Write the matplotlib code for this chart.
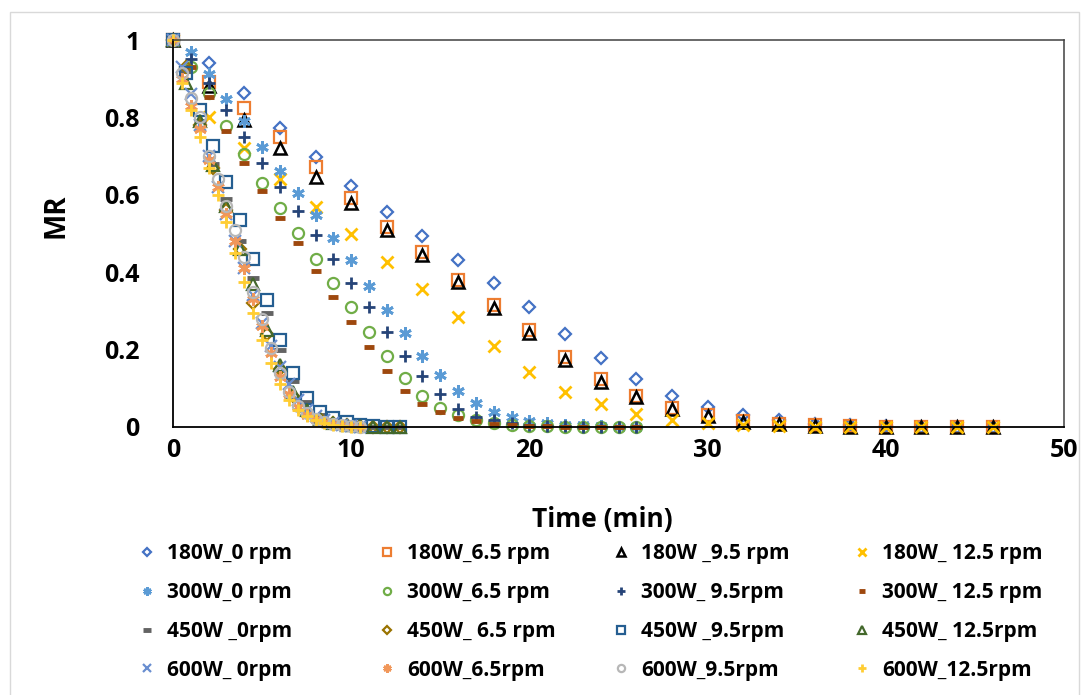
import numpy as np
import matplotlib
matplotlib.use("Agg")
import matplotlib.pyplot as plt
from matplotlib.patches import Rectangle

plt.rcParams['font.family'] = ['Open Sans', 'DejaVu Sans']
plt.rcParams['font.weight'] = 'bold'

# sampling times (min)
t_180 = np.arange(0, 47, 2)          # every 2 min
t_300 = np.arange(0, 27, 1)          # every 1 min
t_450 = np.arange(0, 13, 0.75)       # every 0.75 min
t_600 = np.arange(0, 10.6, 0.5)      # every 0.5 min

# moisture ratio
mr_180_0 = [1, 0.94, 0.863, 0.772, 0.697, 0.623, 0.556, 0.494, 0.432, 0.372, 0.31, 0.24,
            0.178, 0.124, 0.08, 0.052, 0.03, 0.017, 0.008, 0.004, 0.002, 0.001, 0, 0]
mr_180_65 = [1, 0.891, 0.824, 0.749, 0.672, 0.592, 0.518, 0.452, 0.38, 0.315, 0.25, 0.18,
             0.125, 0.08, 0.05, 0.03, 0.015, 0.008, 0.004, 0.002, 0.001, 0, 0, 0]
mr_180_95 = [1, 0.88, 0.793, 0.721, 0.646, 0.578, 0.51, 0.445, 0.375, 0.307, 0.243, 0.173,
             0.117, 0.078, 0.047, 0.028, 0.014, 0.007, 0.003, 0.001, 0, 0, 0, 0]
mr_180_125 = [1, 0.80, 0.72, 0.64, 0.568, 0.50, 0.426, 0.357, 0.284, 0.209, 0.142, 0.09,
              0.059, 0.034, 0.018, 0.01, 0.005, 0.002, 0.001, 0, 0, 0, 0, 0]

mr_300_0 = [1, 0.97, 0.912, 0.848, 0.79, 0.724, 0.662, 0.605, 0.548, 0.489, 0.432, 0.364, 0.302,
            0.243, 0.183, 0.134, 0.093, 0.062, 0.039, 0.026, 0.016, 0.01, 0.006, 0.004, 0.002, 0.001, 0]
mr_300_65 = [1, 0.93, 0.863, 0.778, 0.705, 0.631, 0.567, 0.502, 0.434, 0.372, 0.31, 0.245, 0.183,
             0.127, 0.08, 0.049, 0.03, 0.018, 0.01, 0.006, 0.003, 0.002, 0.001, 0, 0, 0, 0]
mr_300_95 = [1, 0.95, 0.89, 0.82, 0.75, 0.682, 0.62, 0.558, 0.496, 0.434, 0.372, 0.31, 0.245,
             0.184, 0.132, 0.085, 0.047, 0.027, 0.017, 0.01, 0.005, 0.003, 0.002, 0.001, 0, 0, 0]
mr_300_125 = [1, 0.93, 0.853, 0.765, 0.682, 0.61, 0.54, 0.475, 0.404, 0.337, 0.271, 0.207, 0.145,
              0.093, 0.059, 0.039, 0.024, 0.015, 0.009, 0.005, 0.003, 0.002, 0.001, 0, 0, 0, 0]

mr_450_0 = [1, 0.92, 0.79, 0.68, 0.59, 0.48, 0.385, 0.295, 0.2, 0.12, 0.065, 0.03,
            0.015, 0.007, 0.003, 0.001, 0, 0]
mr_450_65 = [1, 0.93, 0.78, 0.67, 0.56, 0.46, 0.32, 0.24, 0.15, 0.08, 0.04, 0.02,
             0.01, 0.005, 0.002, 0.001, 0, 0]
mr_450_95 = [1, 0.915, 0.82, 0.725, 0.633, 0.535, 0.435, 0.328, 0.225, 0.14, 0.075, 0.039,
             0.023, 0.013, 0.006, 0.003, 0.001, 0]
mr_450_125 = [1, 0.89, 0.79, 0.677, 0.57, 0.46, 0.37, 0.25, 0.16, 0.09, 0.045, 0.02,
              0.01, 0.005, 0.002, 0.001, 0, 0]

mr_600_0 = [1, 0.93, 0.86, 0.78, 0.70, 0.62, 0.55, 0.48, 0.41, 0.34, 0.27, 0.21, 0.155,
            0.11, 0.07, 0.045, 0.028, 0.017, 0.01, 0.006, 0.003, 0.001]
mr_600_65 = [1, 0.90, 0.83, 0.77, 0.69, 0.62, 0.55, 0.48, 0.41, 0.33, 0.26, 0.19, 0.13,
             0.085, 0.052, 0.032, 0.02, 0.012, 0.007, 0.004, 0.002, 0.001]
mr_600_95 = [1, 0.915, 0.85, 0.80, 0.70, 0.64, 0.57, 0.51, 0.44, 0.35, 0.28, 0.205, 0.14,
             0.09, 0.055, 0.035, 0.02, 0.012, 0.007, 0.004, 0.002, 0.001]
mr_600_125 = [1, 0.89, 0.82, 0.75, 0.67, 0.60, 0.53, 0.45, 0.375, 0.295, 0.225, 0.165, 0.11,
              0.07, 0.045, 0.028, 0.017, 0.01, 0.006, 0.003, 0.001, 0]

labels = ['180W_0 rpm', '180W_6.5 rpm', '180W _9.5 rpm', '180W_ 12.5 rpm',
          '300W_0 rpm', '300W_6.5 rpm', '300W_ 9.5rpm', '300W_ 12.5 rpm',
          '450W _0rpm', '450W_ 6.5 rpm', '450W _9.5rpm', '450W_ 12.5rpm',
          '600W_ 0rpm', '600W_6.5rpm', '600W_9.5rpm', '600W_12.5rpm']

star6 = (6, 2, 0)  # excel-like asterisk marker
series = [
    (t_180, mr_180_0, 'D', '#4472C4', 6.5, 1.6),
    (t_180, mr_180_65, 's', '#ED7D31', 8, 1.6),
    (t_180, mr_180_95, '^', '#000000', 8, 1.8),
    (t_180, mr_180_125, 'x', '#FFC000', 8, 2.0),
    (t_300, mr_300_0, star6, '#5B9BD5', 9, 2.0),
    (t_300, mr_300_65, 'o', '#70AD47', 8, 1.6),
    (t_300, mr_300_95, '+', '#264478', 9, 2.0),
    (t_300, mr_300_125, '_', '#9E480E', 7, 3.5),
    (t_450, mr_450_0, '_', '#636363', 8, 3.5),
    (t_450, mr_450_65, 'D', '#997300', 6.5, 1.6),
    (t_450, mr_450_95, 's', '#255E91', 8, 1.6),
    (t_450, mr_450_125, '^', '#43682B', 8, 1.6),
    (t_600, mr_600_0, 'x', '#698ED0', 8, 1.6),
    (t_600, mr_600_65, star6, '#F1975A', 9, 2.0),
    (t_600, mr_600_95, 'o', '#B7B7B7', 8, 1.6),
    (t_600, mr_600_125, '+', '#FFCD33', 9, 2.0),
]

fig = plt.figure(figsize=(10.84, 6.95), dpi=100)
ax = fig.add_axes([173 / 1084, 1 - 427 / 695, (1064 - 173) / 1084, (427 - 40) / 695])

handles = []
for (t, mr, m, c, ms, mew), lab in zip(series, labels):
    h, = ax.plot(t, mr, linestyle='none', marker=m, markersize=ms, markeredgewidth=mew,
                 markerfacecolor='none', markeredgecolor=c, color=c, label=lab, clip_on=False)
    handles.append(h)

ax.set_xlim(0, 50)
ax.set_ylim(0, 1)
ax.set_xticks([0, 10, 20, 30, 40, 50])
ax.set_yticks([0, 0.2, 0.4, 0.6, 0.8, 1])
ax.set_yticklabels(['0', '0.2', '0.4', '0.6', '0.8', '1'])
ax.tick_params(axis='both', length=0, labelsize=18)
ax.tick_params(axis='y', pad=24)
ax.tick_params(axis='x', pad=8)
for sp in ['left', 'bottom']:
    ax.spines[sp].set_color('black')
    ax.spines[sp].set_linewidth(1.3)
for sp in ['top', 'right']:
    ax.spines[sp].set_color('#404040')
    ax.spines[sp].set_linewidth(1.1)

ax.set_xlabel('Time (min)', fontsize=19, fontweight='bold')
ax.set_ylabel('MR', fontsize=20, fontweight='bold')
ax.xaxis.set_label_coords((602 - 173) / 891, (427 - 506) / 387)
ax.yaxis.set_label_coords((70 - 173) / 891, (427 - 216) / 387)

# legend: 4 columns, rows ordered as in the original
col_x = [147, 387, 621, 862]
for j in range(4):
    hs = [handles[j + 4 * i] for i in range(4)]
    fig.legend(handles=hs, labels=[h.get_label() for h in hs], loc='upper left',
               bbox_to_anchor=((col_x[j] - 8) / 1084, 1 - 543 / 695),
               frameon=False, fontsize=15, markerscale=0.65, handlelength=0.8,
               handletextpad=0.55, labelspacing=0.86, borderpad=0, borderaxespad=0)

# light chart-area border
fig.patches.append(Rectangle((10 / 1084, -0.02), 1069 / 1084, 1.02 - 12 / 695,
                             transform=fig.transFigure, fill=False,
                             edgecolor='#D9D9D9', linewidth=1))

fig.savefig('out.png', dpi=100)
